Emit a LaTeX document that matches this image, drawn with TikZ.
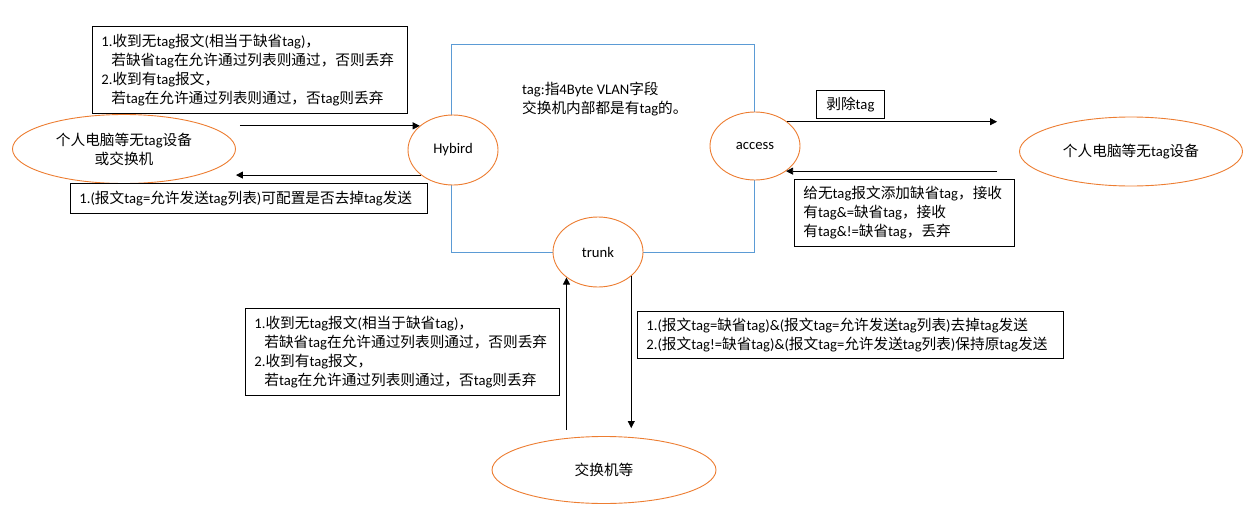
\documentclass[tikz,border=0pt]{standalone}
\usepackage{fontspec}
\setmainfont{Carlito}
\newfontfamily\cjkfont{Noto Sans CJK SC}
% switch to the CJK font for Chinese runs
\XeTeXinterchartokenstate=1
\newXeTeXintercharclass\cjkcls
\newcount\cjkcode
\def\cjkrange#1#2{\cjkcode=#1
  \loop\XeTeXcharclass\cjkcode=\cjkcls
  \ifnum\cjkcode<#2 \advance\cjkcode by 1 \repeat}
\cjkrange{"4E00}{"9FFF}
\cjkrange{"3000}{"303F}
\cjkrange{"FF00}{"FFEF}
\XeTeXinterchartoks 0 \cjkcls = {\cjkfont}
\XeTeXinterchartoks 4095 \cjkcls = {\cjkfont}
\XeTeXinterchartoks \cjkcls 0 = {\rmfamily}
\XeTeXinterchartoks \cjkcls 4095 = {\rmfamily}
\usepackage{tikz}
\usetikzlibrary{
  arrows.meta,
  positioning,
  shapes.geometric
}
\definecolor{vlanorange}{HTML}{ED7D31}
\definecolor{vlanblue}  {HTML}{5B9BD5}

\begin{document}
\begin{tikzpicture}[
  x=1pt, y=-1pt,
  every node/.style={font=\fontsize{14.67}{19}\selectfont},
  port/.style={
    ellipse, draw=vlanorange, fill=white, line width=0.9pt,
    inner sep=0pt, minimum width=90pt, minimum height=70pt
  },
  host/.style={port, minimum width=223pt, minimum height=69pt, align=center},
  switchbox/.style={draw=vlanblue, line width=0.9pt, inner sep=0pt,
                    minimum width=303pt, minimum height=208pt},
  rule/.style={draw, line width=0.8pt, anchor=north west,
               inner xsep=9pt, inner ysep=2pt, align=left},
  arr/.style={-{Triangle[length=7pt,width=7pt]}, line width=0.8pt}
]
\useasboundingbox (0,0) rectangle (1253,514);

% Switch
\node[switchbox] (sw) at (602.5,148) {};
\node[anchor=west, align=left, inner sep=0pt] (tagnote) at (522,99)
  {tag:指4Byte VLAN字段\\交换机内部都是有tag的。};

% Ports
\node[port] (hybird) at (453,150) {Hybird};
\node[port, minimum height=68pt] (access) at (755,146) {access};
\node[port] (trunk) at (598,252) {trunk};

% Devices
\node[host] (pc) at (124,149) {个人电脑等无tag设备\\或交换机};
\node[host] (host) at (1131,151.5) {个人电脑等无tag设备};
\node[host, minimum width=224pt, minimum height=67pt] (sw2) at (604,470) {交换机等};

% Rules
\node[rule, text width=297pt, minimum height=87pt] (hyin) at (92,26)
  {1.收到无tag报文(相当于缺省tag)，\\
   \hspace*{10pt}若缺省tag在允许通过列表则通过，否则丢弃\\
   2.收到有tag报文，\\
   \hspace*{10pt}若tag在允许通过列表则通过，否tag则丢弃};
\node[rule, text width=339pt, minimum height=30pt] (hyout) at (70,183)
  {1.(报文tag=允许发送tag列表)可配置是否去掉tag发送};
\node[rule, align=center, minimum width=68pt, minimum height=28pt,
      inner xsep=0pt] (acout) at (816,90) {剥除tag};
\node[rule, text width=202pt, minimum height=67pt] (acin) at (794,179)
  {给无tag报文添加缺省tag，接收\\
   有tag\&=缺省tag，接收\\
   有tag\&!=缺省tag，丢弃};
\node[rule, text width=296pt, minimum height=87pt] (trin) at (245,308)
  {1.收到无tag报文(相当于缺省tag)，\\
   \hspace*{10pt}若缺省tag在允许通过列表则通过，否则丢弃\\
   2.收到有tag报文，\\
   \hspace*{10pt}若tag在允许通过列表则通过，否tag则丢弃};
\node[rule, text width=408pt, minimum height=47pt] (trout) at (637,311)
  {1.(报文tag=缺省tag)\&(报文tag=允许发送tag列表)去掉tag发送\\
   2.(报文tag!=缺省tag)\&(报文tag=允许发送tag列表)保持原tag发送};

% Arrows
\draw[arr] ([xshift=4pt]pc.east |- hybird.144) -- (hybird.144);
\draw[arr] (hybird.218) -- (pc.east |- hybird.218);
\draw[arr] (access.37) -- ([xshift=-22pt]host.west |- access.37);
\draw[arr] ([xshift=-22pt]host.west |- access.321) -- (access.321);
\draw[arr] ([yshift=6pt]sw2.north -| trunk.219) -- (trunk.219);
\draw[arr] (trunk.324) -- ([yshift=8pt]sw2.north -| trunk.324);

\end{tikzpicture}
\end{document}
